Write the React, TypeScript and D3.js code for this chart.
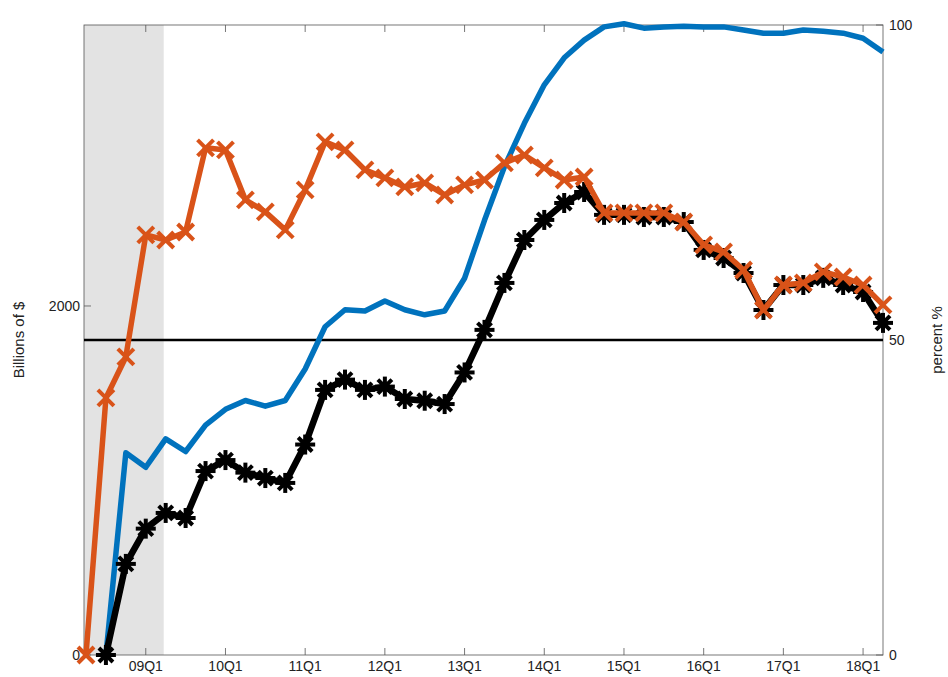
import React from "react";
import * as d3 from "d3";

const quarterLabels = ["09Q1","10Q1","11Q1","12Q1","13Q1","14Q1","15Q1","16Q1","17Q1","18Q1"];
const labelIndex = [3,7,11,15,19,23,27,31,35,39];
const orange = [0,1473,1708,2407,2378,2424,2906,2894,2608,2539,2436,2665,2940,2894,2780,2734,2682,2705,2636,2694,2722,2820,2865,2791,2722,2739,2533,2533,2533,2533,2481,2350,2310,2206,1977,2120,2132,2195,2166,2120,2006];
const black = [null,0,522,724,814,785,1054,1117,1045,1014,986,1206,1519,1578,1519,1538,1467,1457,1438,1619,1863,2132,2378,2493,2590,2653,2522,2522,2510,2510,2481,2321,2275,2189,1977,2120,2120,2161,2120,2080,1903];
const blue = [null,0,32.1,29.8,34.3,32.3,36.5,39.0,40.4,39.5,40.4,45.4,52.1,54.8,54.6,56.2,54.8,54.0,54.6,59.8,69.0,77.5,84.4,90.5,94.8,97.6,99.7,100.2,99.5,99.7,99.8,99.7,99.7,99.2,98.7,98.7,99.2,99.0,98.7,97.9,95.7];
const recessionEnd = 3.9;

export default function App() {
  const W = 948, H = 677;
  const L = 84, R = 883, T = 25, B = 655;
  const x = d3.scaleLinear().domain([-0.1, 40]).range([L, R]);
  const yL = d3.scaleLinear().domain([0, 3610]).range([B, T]);
  const yR = d3.scaleLinear().domain([0, 100]).range([B, T]);
  const font = "'Liberation Sans', Arial, sans-serif";
  const mk = (arr: (number | null)[], y: any) =>
    d3.line<number | null>().defined(d => d !== null).x((_, i) => x(i)).y(d => y(d as number))(arr) || "";
  const yearTicks = labelIndex.map(i => x(i));
  return (
    <svg width={W} height={H} style={{ position: "absolute", left: 0, top: 0 }} fontFamily={font}>
      <rect x={0} y={0} width={W} height={H} fill="#fff" />
      <rect x={L} y={T} width={x(recessionEnd) - L} height={B - T} fill="#e3e3e3" />
      <rect x={L} y={T} width={R - L} height={B - T} fill="none" stroke="#555" strokeWidth={0.8} />
      {yearTicks.map((t, i) => (
        <g key={i}>
          <line x1={t} x2={t} y1={B} y2={B - 7} stroke="#555" strokeWidth={0.8} />
          <line x1={t} x2={t} y1={T} y2={T + 7} stroke="#555" strokeWidth={0.8} />
          <text x={t} y={B + 16} textAnchor="middle" fontSize={14} fill="#222">{quarterLabels[i]}</text>
        </g>
      ))}
      {[0, 2000].map(v => (
        <g key={v}>
          <line x1={L} x2={L + 7} y1={yL(v)} y2={yL(v)} stroke="#555" strokeWidth={0.8} />
          <text x={L - 4} y={yL(v) + 5} textAnchor="end" fontSize={14} fill="#222">{v}</text>
        </g>
      ))}
      {[0, 50, 100].map(v => (
        <g key={v}>
          <line x1={R} x2={R - 7} y1={yR(v)} y2={yR(v)} stroke="#555" strokeWidth={0.8} />
          <text x={R + 6} y={yR(v) + 5} fontSize={14} fill="#222">{v}</text>
        </g>
      ))}
      <text transform={`translate(24,${(T + B) / 2}) rotate(-90)`} textAnchor="middle" fontSize={15} fill="#222">Billions of $</text>
      <text transform={`translate(942,${(T + B) / 2}) rotate(-90)`} textAnchor="middle" fontSize={15} fill="#222">percent %</text>
      <line x1={L} x2={R} y1={yR(50)} y2={yR(50)} stroke="#000" strokeWidth={2.5} />
      <path d={mk(blue, yR)} fill="none" stroke="#0072BD" strokeWidth={5.5} strokeLinejoin="round" />
      <path d={mk(black, yL)} fill="none" stroke="#000" strokeWidth={6.5} strokeLinejoin="round" />
      {black.map((v, i) => v === null ? null : (
        <g key={i} transform={`translate(${x(i)},${yL(v)})`} stroke="#000" strokeWidth={4}>
          <circle r={5} fill="#000" stroke="none" />
          <line x1={-10} x2={10} y1={0} y2={0} />
          <line x1={0} x2={0} y1={-10} y2={10} />
          <line x1={-7} x2={7} y1={-7} y2={7} />
          <line x1={-7} x2={7} y1={7} y2={-7} />
        </g>
      ))}
      <path d={mk(orange, yL)} fill="none" stroke="#D95319" strokeWidth={5.5} strokeLinejoin="round" />
      {orange.map((v, i) => (
        <g key={i} transform={`translate(${x(i)},${yL(v)})`} stroke="#D95319" strokeWidth={4}>
          <line x1={-8} x2={8} y1={-8} y2={8} />
          <line x1={-8} x2={8} y1={8} y2={-8} />
        </g>
      ))}
    </svg>
  );
}
